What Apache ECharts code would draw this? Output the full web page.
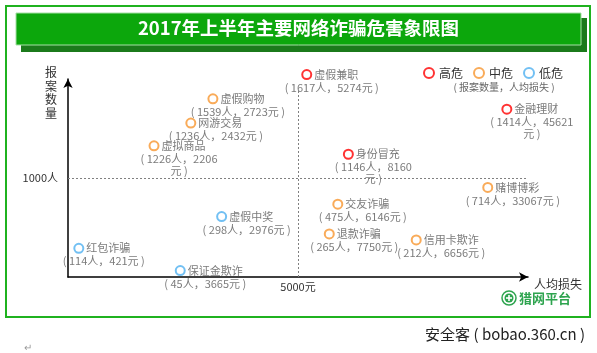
<!DOCTYPE html>
<html>
<head>
<meta charset="utf-8">
<title>2017年上半年主要网络诈骗危害象限图</title>
<script src="https://cdn.jsdelivr.net/npm/echarts@6/dist/echarts.min.js"></script>
<style>
  html, body { margin: 0; padding: 0; background: #fff; }
  #main { width: 597px; height: 353px; }
</style>
</head>
<body>
<div id="main"></div>
<script>
// 诈骗类型
var names = ['虚假兼职', '金融理财', '身份冒充', '虚假购物', '网游交易', '虚拟商品', '赌博博彩',
             '交友诈骗', '退款诈骗', '信用卡欺诈', '虚假中奖', '红包诈骗', '保证金欺诈'];
// 报案数量（人）
var reports = [1617, 1414, 1146, 1539, 1236, 1226, 714, 475, 265, 212, 298, 114, 45];
// 人均损失（元）
var losses = [5274, 45621, 8160, 2723, 2432, 2206, 33067, 6146, 7750, 6656, 2976, 421, 3665];
// 危害等级
var levels = ['高危', '高危', '高危', '中危', '中危', '中危', '中危',
              '中危', '中危', '中危', '低危', '低危', '低危'];
// 原图是示意象限图，点不按数值比例摆放；这里是从图上对照 5000元 / 1000人 两条参考线读出的位置
var lossPos = [5190, 9540, 6095, 3150, 2670, 1870, 9125, 5865, 5680, 7570, 3340, 235, 2440];
var reportPos = [2045, 1695, 1240, 1800, 1555, 1325, 905, 735, 435, 375, 610, 290, 65];

var levelNames = ['高危', '中危', '低危'];
var levelColors = ['#ff0000', '#f7962f', '#4fb0f0'];
var lossLine = 5000;
var reportLine = 1000;
// 这几项的数值在“元”前换行
var wrapped = ['金融理财', '身份冒充', '虚拟商品'];

var font = "'Noto Sans CJK SC', 'Noto Sans', sans-serif";

function valueText(i) {
    var br = wrapped.indexOf(names[i]) >= 0 ? '\n' : '';
    return '( ' + reports[i] + '人，' + losses[i] + br + '元 )';
}

var series = levelNames.map(function (lv, k) {
    var data = [];
    names.forEach(function (n, i) {
        if (levels[i] === lv) data.push([lossPos[i], reportPos[i], n]);
    });
    return {
        name: lv,
        type: 'scatter',
        symbol: 'emptyCircle',
        symbolSize: 9,
        clip: false,
        silent: true,
        itemStyle: { color: levelColors[k], borderColor: levelColors[k], borderWidth: 2 },
        label: {
            show: true,
            position: 'right',
            distance: 2,
            formatter: function (p) { return p.data[2]; },
            color: '#595959',
            fontSize: 11,
            fontFamily: font
        },
        data: data
    };
});

// 数值标签 + 两条参考线
series.push({
    name: 'values',
    type: 'scatter',
    symbolSize: 0,
    clip: false,
    silent: true,
    itemStyle: { color: 'rgba(0,0,0,0)' },
    label: {
        show: true,
        position: [25, 7],
        align: 'center',
        verticalAlign: 'top',
        lineHeight: 12,
        formatter: function (p) { return p.data[2]; },
        color: '#595959',
        fontSize: 11,
        fontFamily: font
    },
    data: names.map(function (n, i) { return [lossPos[i], reportPos[i], valueText(i)]; }),
    markLine: {
        silent: true,
        symbol: 'none',
        animation: false,
        lineStyle: { color: '#808080', type: [2, 2], width: 1 },
        label: { color: '#333', fontSize: 11, fontFamily: font },
        data: [
            { yAxis: reportLine, label: { position: 'start', distance: 10, formatter: reportLine + '人' } },
            [
                { coord: [lossLine, 0], label: { position: 'start', distance: 4, formatter: lossLine + '元' } },
                { coord: [lossLine, 1900] }
            ]
        ]
    }
});

var myChart = echarts.init(document.getElementById('main'));
myChart.setOption({
    animation: false,
    title: {
        text: '2017年上半年主要网络诈骗危害象限图',
        left: 'center',
        top: 19,
        padding: 0,
        textStyle: { color: '#fff', fontSize: 18.5, fontWeight: 'bold', fontFamily: font }
    },
    legend: {
        data: levelNames,
        left: 418,
        top: 62,
        itemWidth: 10,
        itemHeight: 10,
        itemGap: 10,
        textStyle: { fontSize: 12, color: '#333', fontFamily: font }
    },
    grid: { left: 68, right: 69, top: 79, bottom: 76 },
    xAxis: {
        type: 'value',
        min: 0,
        max: 10000,
        axisLine: { show: true, symbol: ['none', 'arrow'], symbolSize: [7, 9], lineStyle: { color: '#000', width: 1.5 } },
        axisTick: { show: false },
        axisLabel: { show: false },
        splitLine: { show: false },
        name: '人均损失',
        nameLocation: 'end',
        nameGap: 6,
        nameTextStyle: { align: 'left', verticalAlign: 'top', padding: [1, 0, 0, 0], fontSize: 12, color: '#333', fontFamily: font }
    },
    yAxis: {
        type: 'value',
        min: 0,
        max: 2000,
        axisLine: { show: true, symbol: ['none', 'arrow'], symbolSize: [7, 9], lineStyle: { color: '#000', width: 1.5 } },
        axisTick: { show: false },
        axisLabel: { show: false },
        splitLine: { show: false },
        name: '{v|报}\n{v|案}\n{v|数}\n{v|量}',
        nameLocation: 'end',
        nameGap: 13,
        nameTextStyle: {
            align: 'right', verticalAlign: 'top', padding: [0, 11, 0, 0], color: '#333', fontFamily: font,
            rich: { v: { fontSize: 12, lineHeight: 13.5, color: '#333', fontFamily: font } }
        }
    },
    graphic: [
        { type: 'rect', z: 0, shape: { x: 6, y: 6, width: 584, height: 311 }, style: { fill: 'none', stroke: '#1fb21f', lineWidth: 2 } },
        { type: 'rect', z: 0, shape: { x: 21, y: 18, width: 566, height: 34 }, style: { fill: '#1b7a1b' } },
        { type: 'rect', z: 1, shape: { x: 16, y: 13, width: 565, height: 32 }, style: { fill: '#0ca70c', stroke: '#a5dfa5', lineWidth: 1 } },
        { type: 'text', z: 2, x: 504, y: 87, style: { text: '( 报案数量，人均损失 )', fill: '#666', fontSize: 10, fontFamily: font, textAlign: 'center', textVerticalAlign: 'middle' } },
        { type: 'circle', z: 2, shape: { cx: 509, cy: 298, r: 7 }, style: { fill: 'none', stroke: '#2ea44f', lineWidth: 1.5 } },
        { type: 'circle', z: 2, shape: { cx: 509, cy: 298, r: 4.5 }, style: { fill: '#2ea44f' } },
        { type: 'rect', z: 3, shape: { x: 508.2, y: 295, width: 1.6, height: 6 }, style: { fill: '#fff' } },
        { type: 'rect', z: 3, shape: { x: 506, y: 297.2, width: 6, height: 1.6 }, style: { fill: '#fff' } },
        { type: 'text', z: 2, x: 519, y: 298, style: { text: '猎网平台', fill: '#2ea44f', fontSize: 13, fontWeight: 'bold', fontFamily: font, textVerticalAlign: 'middle' } },
        { type: 'text', z: 2, x: 585, y: 334, style: { text: '安全客 ( bobao.360.cn )', fill: '#222', fontSize: 15, fontFamily: font, textAlign: 'right', textVerticalAlign: 'middle' } },
        { type: 'text', z: 2, x: 24, y: 347, style: { text: '↵', fill: '#999', fontSize: 10, fontFamily: font, textVerticalAlign: 'middle' } }
    ],
    series: series
});
</script>
</body>
</html>
